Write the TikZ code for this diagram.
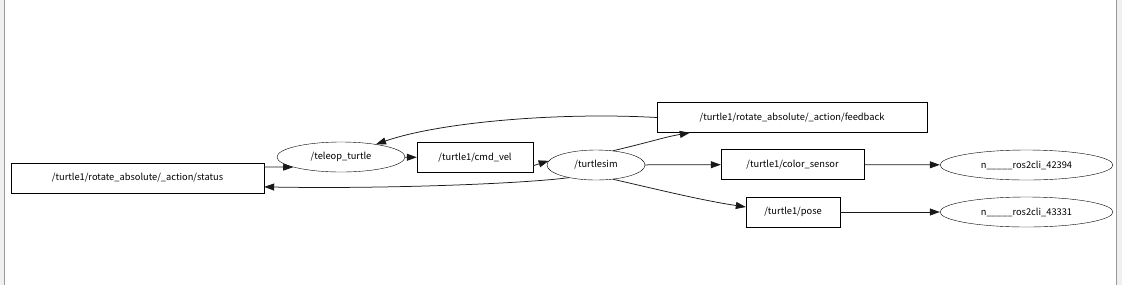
\documentclass[tikz,border=0pt]{standalone}
\usepackage{fontspec}
\setmainfont{Noto Sans CJK SC}
\usepackage{tikz}
\usetikzlibrary{arrows.meta, shapes.geometric}

\begin{document}
\begin{tikzpicture}[x=1pt, y=-1pt,
    topic/.style={draw, rectangle, minimum height=30pt, inner sep=0pt, font=\fontsize{9.3}{11}\selectfont},
    proc/.style={draw, ellipse, minimum height=30pt, inner sep=0pt, font=\fontsize{9.3}{11}\selectfont},
    link/.style={-{Triangle[length=10pt, width=7pt]}, line width=0.75pt, black!90}]
    % Rahmen
    \useasboundingbox (0,0) rectangle (1122,285);
    \fill[black!6] (0,0) rectangle (4,285);
    \fill[black!6] (1116,0) rectangle (1122,285);
    \draw[black!40, line width=0.8pt] (4,0) -- (4,285);
    \draw[black!40, line width=0.8pt] (1116,0) -- (1116,285);
    % Knoten
    \node[topic, minimum width=253pt] (status) at (137.5,178) {/turtle1/rotate\_absolute/\_action/status};
    \node[proc, minimum width=128pt] (teleop) at (341,157) {/teleop\_turtle};
    \node[topic, minimum width=116pt] (cmdvel) at (475,157.5) {/turtle1/cmd\_vel};
    \node[proc, minimum width=98pt] (turtlesim) at (596,165) {/turtlesim};
    \node[topic, minimum width=270pt] (feedback) at (792,117.5) {/turtle1/rotate\_absolute/\_action/feedback};
    \node[topic, minimum width=143pt] (colorsensor) at (792.5,164.5) {/turtle1/color\_sensor};
    \node[topic, minimum width=94pt] (pose) at (793,212) {/turtle1/pose};
    \node[proc, minimum width=173pt] (cliA) at (1026.5,165) {n\_\_\_\_\_ros2cli\_42394};
    \node[proc, minimum width=173pt] (cliB) at (1026.5,212) {n\_\_\_\_\_ros2cli\_43331};
    % Verbindungen
    \draw[link] (status.5) -- (teleop.192);
    \draw[link] (teleop) -- (cmdvel);
    \draw[link] (cmdvel.-8) -- (turtlesim.175);
    \draw[link] (turtlesim.205) .. controls (520,184) and (380,189) .. (status.-4.5);
    \draw[link] (feedback.west) .. controls (560,112) and (440,122) .. (teleop.20);
    \draw[link] (turtlesim.40) .. controls (650,142) and (665,137) .. ([xshift=33pt]feedback.south west);
    \draw[link] (turtlesim) -- (colorsensor);
    \draw[link] (turtlesim.-40) .. controls (660,190) and (700,200) .. ([yshift=5pt]pose.west);
    \draw[link] (colorsensor) -- (cliA);
    \draw[link] (pose) -- (cliB);
\end{tikzpicture}
\end{document}
